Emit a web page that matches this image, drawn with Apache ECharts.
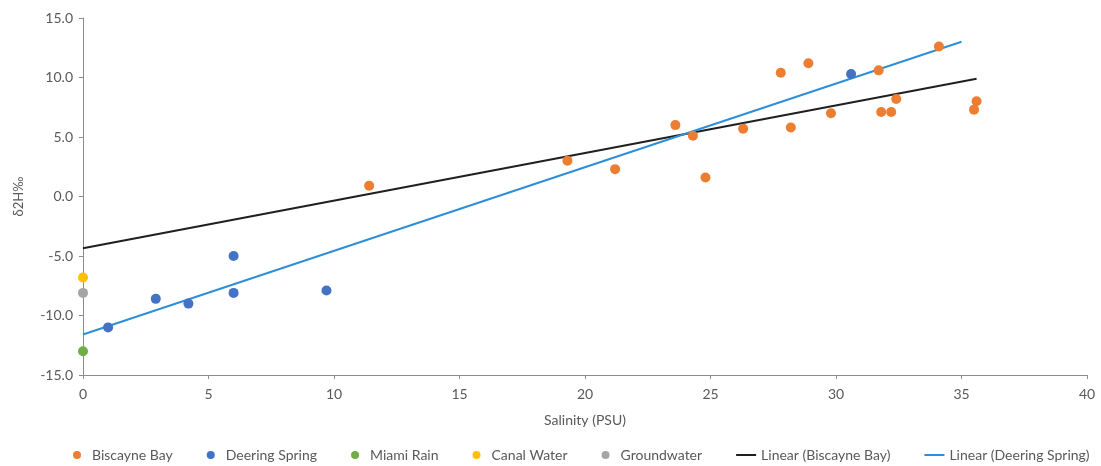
<!DOCTYPE html>
<html>
<head>
<meta charset="utf-8">
<script src="https://cdn.jsdelivr.net/npm/echarts@6/dist/echarts.min.js"></script>
<style>
  html, body { margin: 0; padding: 0; background: #fff; }
  #chart { width: 1101px; height: 466px; }
</style>
</head>
<body>
<div id="chart"></div>
<script>
// salinity (PSU), δ2H‰
var biscayneBay = [
    [11.4, 0.9], [19.3, 3.0], [21.2, 2.3], [23.6, 6.0], [24.3, 5.1], [24.8, 1.6],
    [26.3, 5.7], [27.8, 10.4], [28.9, 11.2], [28.2, 5.8], [29.8, 7.0], [31.7, 10.6],
    [31.8, 7.1], [32.2, 7.1], [32.4, 8.2], [34.1, 12.6], [35.5, 7.3], [35.6, 8.0]
];
var deeringSpring = [
    [1.0, -11.0], [2.9, -8.6], [4.2, -9.0], [6.0, -5.0], [6.0, -8.1], [9.7, -7.9], [30.6, 10.3]
];
var miamiRain = [[0, -13.0]];
var canalWater = [[0, -6.8]];
var groundwater = [[0, -8.1]];
// trendline end points as drawn
var linearBiscayne = [[0, -4.35], [35.6, 9.9]];
var linearDeering = [[0, -11.6], [35, 13.0]];

var seriesNames = ['Biscayne Bay', 'Deering Spring', 'Miami Rain', 'Canal Water', 'Groundwater',
    'Linear (Biscayne Bay)', 'Linear (Deering Spring)'];

var chart = echarts.init(document.getElementById('chart'));
var font = 'Lato, "Liberation Sans", sans-serif';
var axisGray = '#8c8c8c';
var textGray = '#595959';
var lineIcon = 'path://M0,0H20V2H0Z';

function scatter(name, data, color) {
    return {
        name: name,
        type: 'scatter',
        data: data,
        symbolSize: 10,
        itemStyle: { color: color, opacity: 1 },
        z: 3
    };
}
function trend(name, data, color) {
    return {
        name: name,
        type: 'line',
        data: data,
        symbol: 'none',
        lineStyle: { color: color, width: 2 },
        itemStyle: { color: color },
        z: 2
    };
}

var option = {
    animation: false,
    textStyle: { fontFamily: font },
    grid: { left: 83, right: 14, top: 18, bottom: 91, containLabel: false },
    legend: {
        left: 68,
        top: 443,
        itemGap: 34,
        itemWidth: 20,
        itemHeight: 8,
        textStyle: { color: textGray, fontSize: 14, fontFamily: font },
        data: [
            { name: seriesNames[0], icon: 'circle' },
            { name: seriesNames[1], icon: 'circle' },
            { name: seriesNames[2], icon: 'circle' },
            { name: seriesNames[3], icon: 'circle' },
            { name: seriesNames[4], icon: 'circle' },
            { name: seriesNames[5], icon: lineIcon },
            { name: seriesNames[6], icon: lineIcon }
        ]
    },
    xAxis: {
        type: 'value',
        min: 0, max: 40, interval: 5,
        name: 'Salinity (PSU)',
        nameLocation: 'middle',
        nameGap: 38,
        nameTextStyle: { color: textGray, fontSize: 14 },
        axisLine: { onZero: false, lineStyle: { color: axisGray, width: 1 } },
        axisTick: { show: true, length: 4, lineStyle: { color: axisGray } },
        axisLabel: { color: textGray, fontSize: 14, margin: 12 },
        splitLine: { show: false }
    },
    yAxis: {
        type: 'value',
        min: -15, max: 15, interval: 5,
        name: 'δ2H‰',
        nameLocation: 'middle',
        nameGap: 58,
        nameTextStyle: { color: textGray, fontSize: 13 },
        axisLine: { show: true, onZero: false, lineStyle: { color: axisGray, width: 1 } },
        axisTick: { show: true, length: 4, lineStyle: { color: axisGray } },
        axisLabel: {
            color: textGray, fontSize: 14, margin: 10,
            formatter: function (v) { return v.toFixed(1); }
        },
        splitLine: { show: false }
    },
    series: [
        scatter(seriesNames[0], biscayneBay, '#ED7D31'),
        scatter(seriesNames[1], deeringSpring, '#4472C4'),
        scatter(seriesNames[2], miamiRain, '#70AD47'),
        scatter(seriesNames[3], canalWater, '#FFC000'),
        scatter(seriesNames[4], groundwater, '#A5A5A5'),
        trend(seriesNames[5], linearBiscayne, '#1f1f1f'),
        trend(seriesNames[6], linearDeering, '#2E8FD8')
    ]
};

chart.setOption(option);
</script>
</body>
</html>
